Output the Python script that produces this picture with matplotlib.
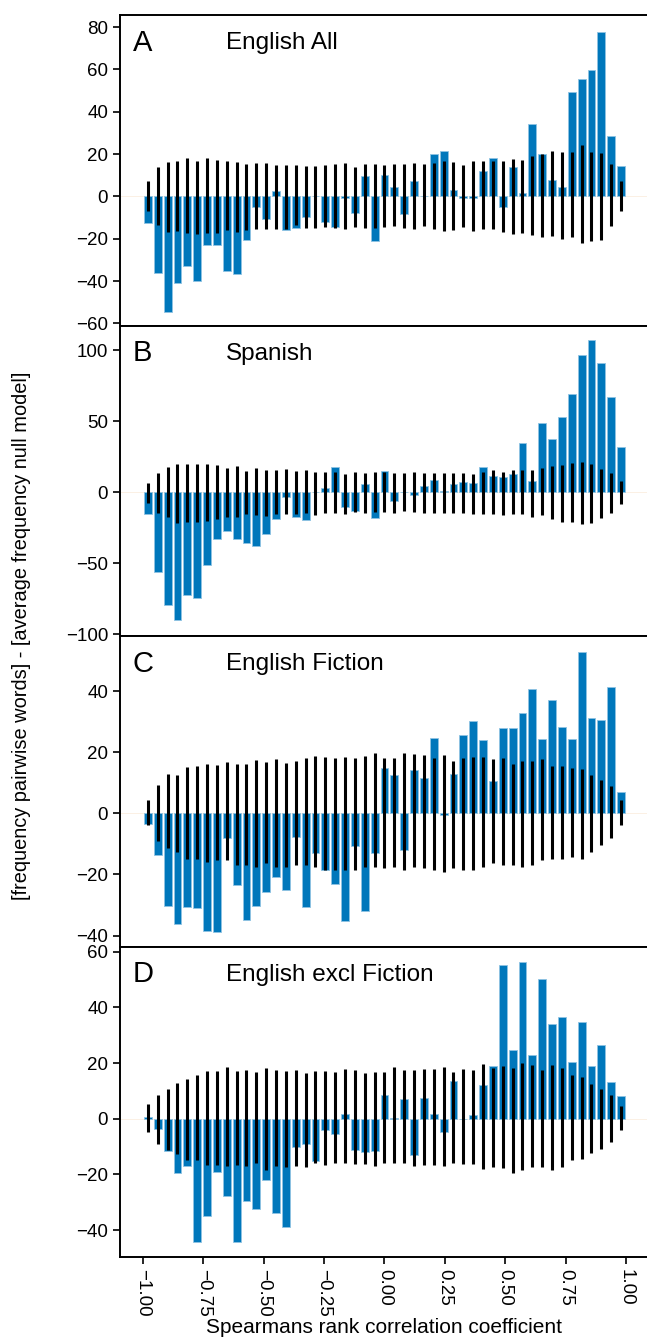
import numpy as np
import matplotlib
matplotlib.use("Agg")
import matplotlib.pyplot as plt
from matplotlib.ticker import FuncFormatter

plt.rcParams['font.family'] = ['Liberation Sans', 'DejaVu Sans']

# Bin centres of the Spearman rank correlation coefficient (49 bins on [-1, 1])
edges = np.linspace(-1, 1, 50)
centers = (edges[:-1] + edges[1:]) / 2

panel_letters = ["A", "B", "C", "D"]
panel_titles = ["English All", "Spanish", "English Fiction", "English excl Fiction"]

# Observed - null model (bars)
diff_A = [-12.6, -36, -54.7, -41, -32.8, -40.2, -22.9, -22.9, -35.1, -36.7,
          -20.5, -5.2, -10.7, 2.4, -15.9, -15, -9.8, 0, -12, -14.5,
          -0.6, -8, 9.8, -21.3, 10.1, 4.6, -8.4, 7.4, 0, 20,
          21.3, 2.8, -0.6, -0.6, 12.1, 18.3, -5, 14, 1.6, 34.2,
          20.2, 7.9, 4.4, 49.5, 55.5, 59.6, 77.9, 28.5, 14.5]
diff_B = [-15.3, -56.3, -79.8, -89.9, -72.3, -74.6, -51.6, -33.3, -27, -33.3,
          -35.7, -37.6, -29.8, -19, -3.5, -17.8, -19.5, 0, 2.8, 17.6,
          -10.1, -13.4, 5.9, -18.1, 15.3, -5.9, 0, -1.6, 4.2, 8.9,
          0.7, 5.9, 7, 6.6, 17.8, 11.7, 11, 12.9, 35, 8,
          48.8, 37.6, 53.3, 69, 96.5, 107.5, 91.5, 67.1, 32.2]
diff_C = [-3.5, -13.6, -30.2, -36.3, -30.6, -31.1, -38.6, -38.9, -8.1, -23.5,
          -34.8, -30.3, -25.9, -20.9, -25.2, -7.7, -30.6, -13, -18.4, -23,
          -35.2, -10.6, -31.9, -13, 15, 12.7, -12.1, 14.1, 11.7, 24.6,
          -0.4, 12.8, 25.8, 30.1, 24.2, 10.5, 27.9, 27.9, 32.8, 40.7,
          24.5, 37, 28.2, 24.3, 53, 31.3, 30.5, 41.5, 6.9]
diff_D = [0.8, -3.8, -11.5, -19.5, -17.1, -44.2, -35, -19.2, -27.7, -44.1,
          -29.6, -32.5, -22.1, -33.7, -38.7, -10, -9.1, -15.3, -4.2, -5.5,
          1.6, -11.1, -11.9, -11.6, 8.5, 0.2, 7.2, -12.9, 7.6, 1.7,
          -4.9, 13.5, 0, 1.3, 12.2, 19, 55.2, 24.6, 56.3, 22.9,
          50.1, 33.9, 36.6, 20.2, 34.8, 18.9, 26.4, 13.1, 8.2]

# Null model spread (black lines): upper and lower ends
upper_A = [7.1, 13.7, 16.1, 16.5, 18.0, 16.5, 18.0, 17.0, 16.5, 16.1,
           15.1, 15.6, 15.6, 14.7, 14.7, 14.7, 14.2, 14.2, 14.7, 15.1,
           15.6, 13.7, 15.1, 15.1, 14.7, 15.1, 15.1, 15.6, 15.1, 15.6,
           16.5, 16.1, 14.7, 16.5, 16.5, 16.5, 16.5, 17.5, 17.0, 18.9,
           19.9, 21.3, 20.8, 20.8, 24.1, 20.8, 20.3, 15.1, 7.1]
lower_A = [-7.1, -13.6, -16.9, -16.5, -17.3, -17.8, -17.3, -17.3, -15.8, -16.9,
           -16.1, -15.4, -15.4, -15.4, -15.4, -13.6, -15.0, -15.0, -14.5, -15.0,
           -15.4, -14.5, -15.0, -15.0, -14.5, -14.0, -15.0, -15.4, -14.0, -15.4,
           -16.4, -15.9, -14.5, -16.4, -15.4, -15.4, -16.9, -17.8, -17.3, -18.3,
           -19.2, -18.8, -20.2, -19.2, -22.1, -21.1, -20.6, -14.0, -6.9]
upper_B = [6.6, 13.6, 17.8, 20.0, 20.0, 20.0, 20.0, 19.2, 17.1, 18.5,
           15.0, 17.1, 15.7, 15.7, 16.4, 15.0, 15.7, 14.3, 14.3, 14.3,
           12.9, 14.3, 13.6, 14.3, 14.3, 13.6, 13.6, 14.3, 13.6, 13.6,
           13.6, 13.6, 13.6, 12.9, 14.3, 15.7, 14.3, 15.7, 15.7, 15.7,
           17.1, 18.5, 19.2, 20.7, 21.4, 20.0, 16.4, 13.6, 8.0]
lower_B = [-7.3, -14.3, -17.8, -21.4, -20.7, -20.7, -20.0, -19.2, -17.8, -17.8,
           -15.7, -16.4, -17.1, -15.0, -15.0, -15.0, -14.3, -16.4, -14.3, -14.3,
           -15.0, -13.6, -14.3, -13.6, -13.6, -14.3, -12.9, -13.6, -14.3, -14.3,
           -14.3, -14.3, -14.3, -15.7, -15.0, -15.0, -16.4, -15.7, -15.7, -17.8,
           -16.4, -19.2, -20.7, -20.7, -22.1, -21.4, -18.5, -14.3, -8.0]
upper_C = [4.3, 9.2, 12.8, 12.5, 15.1, 15.4, 16.1, 15.7, 16.7, 16.1,
           16.1, 17.4, 16.7, 17.7, 16.4, 17.0, 18.0, 18.7, 18.4, 18.0,
           18.4, 18.0, 18.7, 19.7, 18.0, 18.0, 19.7, 19.3, 19.0, 18.0,
           19.0, 17.0, 18.0, 18.4, 18.4, 17.7, 18.0, 16.1, 17.0, 17.0,
           17.7, 15.4, 15.4, 14.8, 14.4, 12.5, 10.8, 8.9, 4.3]
lower_C = [-3.9, -8.9, -11.4, -12.7, -15.1, -14.8, -16.0, -15.4, -15.4, -17.0,
           -17.0, -17.7, -16.4, -17.4, -17.7, -17.0, -17.0, -17.4, -18.4, -18.4,
           -18.7, -18.7, -17.4, -17.4, -18.0, -17.4, -18.7, -17.7, -18.0, -18.4,
           -19.3, -18.0, -18.4, -18.7, -17.7, -16.4, -17.0, -17.0, -17.4, -17.0,
           -15.4, -15.1, -14.8, -14.4, -14.8, -12.8, -10.5, -8.2, -3.9]
upper_D = [5.4, 8.6, 10.8, 12.9, 14.3, 15.8, 17.2, 17.2, 18.6, 17.2,
           17.6, 16.8, 18.3, 17.6, 17.2, 17.6, 16.5, 17.2, 17.2, 16.8,
           17.9, 17.6, 16.5, 16.8, 16.8, 18.6, 17.6, 17.6, 17.9, 17.9,
           18.6, 16.8, 17.9, 17.6, 19.7, 18.3, 19.0, 18.3, 20.1, 19.4,
           17.6, 19.4, 18.3, 15.8, 15.1, 12.5, 10.8, 8.6, 4.7]
lower_D = [-4.7, -9.2, -11.1, -12.8, -14.7, -14.9, -16.7, -16.7, -17.1, -16.7,
           -17.1, -16.0, -18.5, -17.1, -17.4, -17.1, -17.4, -15.7, -16.7, -16.0,
           -16.0, -16.4, -16.4, -17.1, -16.0, -16.0, -16.0, -17.1, -16.7, -16.7,
           -17.1, -16.0, -16.4, -16.4, -18.2, -17.4, -17.8, -19.6, -18.5, -17.4,
           -17.4, -18.5, -17.4, -14.9, -14.6, -12.4, -11.0, -8.5, -4.2]

diffs = [diff_A, diff_B, diff_C, diff_D]
uppers = [upper_A, upper_B, upper_C, upper_D]
lowers = [lower_A, lower_B, lower_C, lower_D]

ylims = [(-61, 85.7), (-101.4, 117.6), (-43.6, 58.1), (-49.6, 61.8)]
yticks = [np.arange(-60, 81, 20), np.arange(-100, 101, 50),
          np.arange(-40, 41, 20), np.arange(-40, 61, 20)]
xticks = np.linspace(-1, 1, 9)

W, H = 647, 1342
fig = plt.figure(figsize=(W / 100, H / 100), dpi=100)

left = 120 / W
right = 1.0
top_px = 15
panel_h = 310.5

bar_color = "#0077bb"
bin_w = edges[1] - edges[0]

axes = []
for i in range(4):
    y0 = top_px + panel_h * (i + 1)
    ax = fig.add_axes([left, 1 - y0 / H, right - left, panel_h / H])
    axes.append(ax)
    ax.axhline(0, color="#fbf0e4", lw=0.7, zorder=0)
    ax.bar(centers, diffs[i], width=bin_w * 0.8, color=bar_color,
           edgecolor="#8fc3e3", linewidth=0.6, zorder=2)
    ax.vlines(centers, lowers[i], uppers[i], color="black", lw=2.2, zorder=3)
    ax.set_ylim(*ylims[i])
    ax.set_yticks(yticks[i])
    ax.set_xlim(-1.095, 1.087)
    ax.spines['right'].set_visible(False)
    for s in ['left', 'top', 'bottom']:
        ax.spines[s].set_linewidth(1.4)
    ax.tick_params(axis='y', labelsize=13.5, width=1.2, length=5)
    ax.text(0.024, 0.955, panel_letters[i], transform=ax.transAxes,
            fontsize=21, va='top', ha='left')
    ax.text(0.201, 0.945, panel_titles[i], transform=ax.transAxes,
            fontsize=17.5, va='top', ha='left')
    if i < 3:
        ax.set_xticks([])
    else:
        ax.set_xticks(xticks)
        ax.xaxis.set_major_formatter(FuncFormatter(lambda v, p: f"{v:.2f}".replace("-", "\u2212")))
        ax.tick_params(axis='x', labelsize=13.5, width=1.2, length=5,
                       labelrotation=270)
        ax.set_xlabel("Spearmans rank correlation coefficient", fontsize=15, labelpad=1)

fig.text(22 / W, 1 - 636 / H, "[frequency pairwise words] - [average frequency null model]",
         rotation=90, va='center', ha='center', fontsize=14.4)

fig.savefig("out.png", dpi=100)
